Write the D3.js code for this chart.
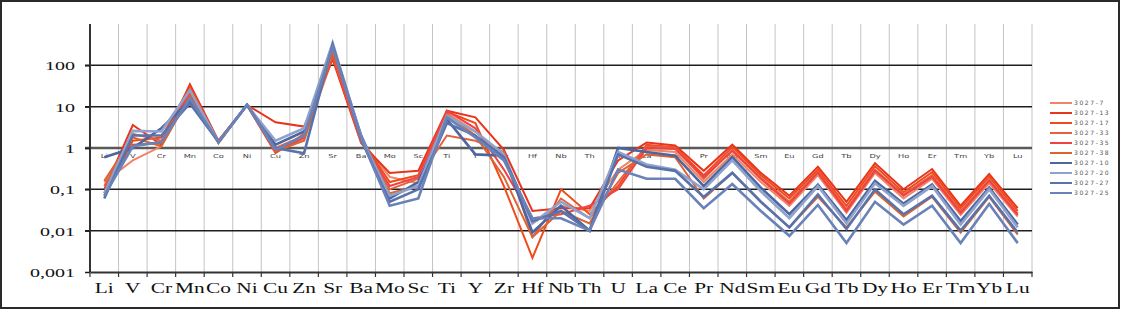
<!DOCTYPE html>
<html><head><meta charset="utf-8">
<script src="https://cdn.jsdelivr.net/npm/d3@7"></script>
<style>body{margin:0;background:#fff}svg{display:block}</style>
</head><body>
<svg id="c" width="1121" height="311"></svg>
<script>
const categories = ["Li","V","Cr","Mn","Co","Ni","Cu","Zn","Sr","Ba","Mo","Sc","Ti","Y","Zr","Hf","Nb","Th","U","La","Ce","Pr","Nd","Sm","Eu","Gd","Tb","Dy","Ho","Er","Tm","Yb","Lu"];
const yTicks = [0.001,0.01,0.1,1,10,100];
const seriesNames = ["3027-7","3027-13","3027-17","3027-33","3027-35","3027-38","3027-10","3027-20","3027-27","3027-25"];
const seriesColors = ["#f08466","#e8341c","#f04a1a","#e4603e","#f04242","#dc6430","#4c66a2","#8fa2cc","#5a72ac","#6a82b8"];
const s3027_7  = [0.15,0.5,1.1,20,1.4,11,0.8,1.6,150,1.5,0.2,0.14,7,2.5,0.6,0.015,0.04,0.03,0.3,0.9,0.8,0.15,0.7,0.15,0.04,0.22,0.027,0.25,0.06,0.18,0.024,0.14,0.022];
const s3027_13 = [0.1,3.6,1.2,35,1.5,11,4.2,3.3,140,1.3,0.25,0.28,8,5.5,0.9,0.03,0.035,0.035,0.5,1.35,1.15,0.28,1.2,0.25,0.07,0.35,0.05,0.43,0.1,0.31,0.04,0.235,0.035];
const s3027_17 = [0.08,1.5,1.8,30,1.4,11,0.75,2.2,160,1.6,0.15,0.22,7.5,4,0.12,0.0022,0.1,0.025,0.12,1.2,1.05,0.22,1.05,0.22,0.06,0.3,0.04,0.36,0.085,0.26,0.035,0.2,0.03];
const s3027_33 = [0.12,2.2,1.5,25,1.3,11,1.0,2.0,170,1.4,0.1,0.18,2.0,1.5,0.8,0.007,0.06,0.02,0.15,1.1,1.0,0.18,0.9,0.19,0.05,0.27,0.033,0.3,0.075,0.22,0.03,0.17,0.026];
const s3027_35 = [0.07,1.2,1.3,22,1.4,11,0.8,1.8,180,1.5,0.12,0.2,8,3,0.3,0.02,0.025,0.04,0.1,1.0,0.95,0.2,0.85,0.18,0.045,0.25,0.03,0.28,0.07,0.2,0.027,0.16,0.024];
const s3027_38 = [0.16,1.8,1.1,18,1.5,11,0.85,1.5,200,1.8,0.08,0.12,6.5,2,0.2,0.007,0.03,0.015,0.25,0.7,0.6,0.06,0.25,0.05,0.012,0.066,0.012,0.088,0.022,0.066,0.009,0.066,0.008];
const s3027_10 = [0.6,1.0,3.0,14,1.4,11,1.2,2.5,300,2.0,0.06,0.15,5,0.7,0.65,0.009,0.04,0.01,1.0,0.8,0.65,0.12,0.6,0.11,0.025,0.13,0.018,0.16,0.045,0.13,0.017,0.11,0.014];
const s3027_20 = [0.08,2.6,2.5,25,1.4,11,1.5,3.0,350,1.8,0.07,0.12,6,2.5,0.7,0.015,0.05,0.02,0.8,0.4,0.3,0.1,0.5,0.09,0.02,0.12,0.015,0.14,0.04,0.12,0.014,0.1,0.012];
const s3027_27 = [0.06,2.0,2.0,12,1.4,11,1.0,0.75,320,1.6,0.05,0.1,4,2,0.6,0.017,0.03,0.01,0.7,0.35,0.28,0.065,0.25,0.05,0.012,0.075,0.011,0.1,0.025,0.07,0.01,0.07,0.009];
const s3027_25 = [0.07,1.1,1.4,16,1.4,11,0.9,2.0,280,1.7,0.04,0.06,5.5,1.8,0.5,0.02,0.02,0.01,0.3,0.18,0.18,0.035,0.135,0.03,0.0075,0.042,0.005,0.05,0.014,0.04,0.005,0.044,0.005];
const seriesValues = [s3027_7,s3027_13,s3027_17,s3027_33,s3027_35,s3027_38,s3027_10,s3027_20,s3027_27,s3027_25];

const svg = d3.select("#c");
const L = 90, R = 1032, T = 24, B = 272;
const x = d3.scaleBand().domain(categories).range([L, R]);
const y = d3.scaleLog().domain([0.001, 1000]).range([B, T]);
const cx = c => x(c) + x.bandwidth() / 2;

// outer frame
svg.append("rect").attr("x",1).attr("y",1).attr("width",1118).attr("height",307)
  .attr("fill","#fff").attr("stroke","#2a2a2a").attr("stroke-width",2);

// vertical gridlines
const bounds = categories.map(c => x(c)).concat([R]);
svg.append("g").selectAll("line").data(bounds.slice(1)).join("line")
  .attr("x1",d=>d).attr("x2",d=>d).attr("y1",T).attr("y2",B)
  .attr("stroke","#c4c4c4").attr("stroke-width",1);

// horizontal gridlines
svg.append("g").selectAll("line").data(yTicks.filter(v=>v>0.001 && v!==1)).join("line")
  .attr("x1",L-5).attr("x2",R).attr("y1",d=>y(d)).attr("y2",d=>y(d))
  .attr("stroke","#1e1e1e").attr("stroke-width",1.5);
// the category axis crossing at 1
svg.append("line").attr("x1",L-5).attr("x2",R).attr("y1",y(1)).attr("y2",y(1))
  .attr("stroke","#5a5a5a").attr("stroke-width",2.6);

// small labels along the line at 1
svg.append("g").selectAll("g").data(categories).join("g")
  .attr("transform",c=>`translate(${cx(c)},${y(1)+10}) scale(1.5,1)`)
  .append("text").attr("text-anchor","middle")
  .attr("font-family","DejaVu Sans").attr("font-size",5.5).attr("fill","#444")
  .text(c=>c);

// y axis
const yAxis = d3.axisLeft(y).tickValues(yTicks).tickSize(5)
  .tickFormat(v => String(v).replace(".", ","));
const gy = svg.append("g").attr("transform",`translate(${L},0)`).call(yAxis);
gy.select(".domain").attr("d",`M0,${T}V${B}`).attr("stroke","#333").attr("stroke-width",2);
gy.selectAll(".tick line").attr("stroke","#1e1e1e").attr("stroke-width",1.5);
gy.selectAll(".tick text").attr("x",0).attr("dy",null).attr("y",4.5)
  .attr("transform","translate(-15,0) scale(1.6,1)")
  .attr("font-family","Liberation Serif").attr("font-size",12.5).attr("fill","#111");

// x axis
const xAxis = d3.axisBottom(x).tickSize(0).tickPadding(0);
const gx = svg.append("g").attr("transform",`translate(0,${B})`).call(xAxis);
gx.select(".domain").attr("stroke","#333").attr("stroke-width",2);
gx.selectAll(".tick text").attr("y",0).attr("dy",null)
  .attr("transform","translate(0,21) scale(1.38,1)")
  .attr("font-family","Liberation Serif").attr("font-size",15.5).attr("fill","#111");
svg.append("g").selectAll("line").data(bounds).join("line")
  .attr("x1",d=>d).attr("x2",d=>d).attr("y1",B).attr("y2",B+5)
  .attr("stroke","#333").attr("stroke-width",1.2);

// series lines
const line = d3.line().x((d,i)=>cx(categories[i])).y(d=>y(d));
svg.append("g").selectAll("path").data(seriesValues).join("path")
  .attr("d",line).attr("fill","none")
  .attr("stroke",(d,i)=>seriesColors[i])
  .attr("stroke-width",(d,i)=> i<6 ? 2 : 2.6)
  .attr("stroke-linejoin","miter");

// legend
const lg = svg.append("g").selectAll("g").data(seriesNames).join("g")
  .attr("transform",(d,i)=>`translate(1050,${103 + i*10})`);
lg.append("line").attr("x1",0).attr("x2",22).attr("y1",0).attr("y2",0)
  .attr("stroke",(d,i)=>seriesColors[i]).attr("stroke-width",2);
lg.append("text").attr("x",24).attr("y",2.2)
  .attr("font-family","DejaVu Sans").attr("font-size",6).attr("letter-spacing",1.6)
  .attr("fill","#555").text(d=>d);
</script>
</body></html>
